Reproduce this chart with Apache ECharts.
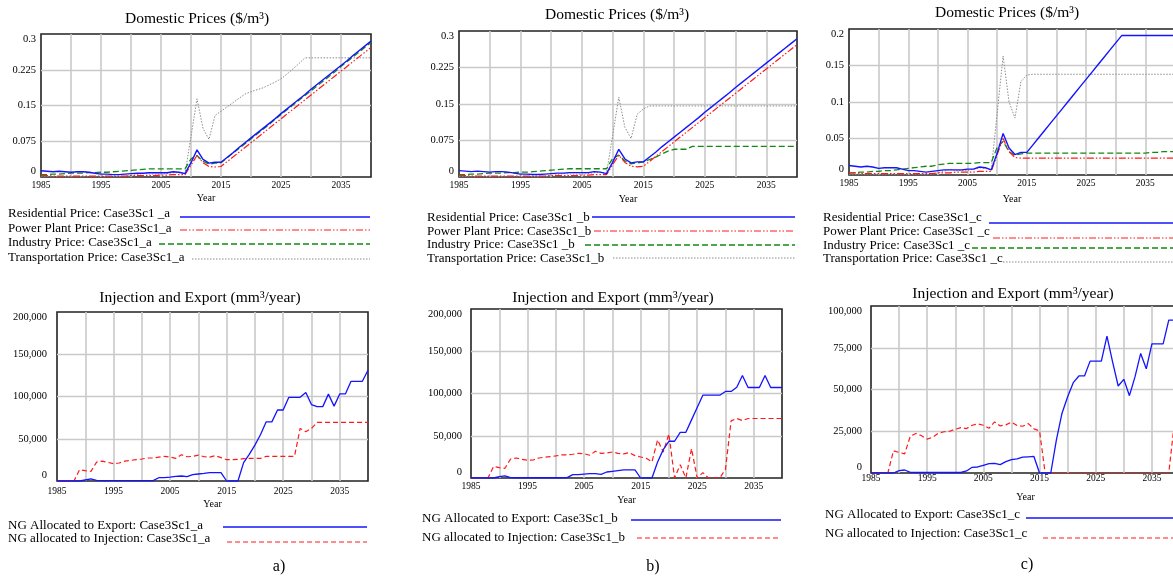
<!DOCTYPE html>
<html><head><meta charset="utf-8">
<script src="https://cdn.jsdelivr.net/npm/echarts@6/dist/echarts.min.js"></script>
<style>html,body{margin:0;padding:0;background:#fff;overflow:hidden}#c{width:1195px;height:580px}</style>
</head><body><div id="c"></div>
<script>
// ---------- DATA ----------
const years = [1985,1986,1987,1988,1989,1990,1991,1992,1993,1994,1995,1996,1997,1998,1999,2000,2001,2002,2003,2004,2005,2006,2007,2008,2009,2010,2011,2012,2013,2014,2015,2016,2017,2018,2019,2020,2021,2022,2023,2024,2025,2026,2027,2028,2029,2030,2031,2032,2033,2034,2035,2036,2037,2038,2039,2040];
const xTickLabels = ['1985','1995','2005','2015','2025','2035'];

// Domestic prices ($/m3)
const resA = [0.013,0.012,0.011,0.012,0.011,0.010,0.011,0.011,0.010,0.008,0.006,0.006,0.005,0.005,0.006,0.007,0.008,0.008,0.009,0.009,0.009,0.009,0.011,0.010,0.007,0.030,0.057,0.037,0.029,0.031,
  0.031,0.041,0.051,0.062,0.072,0.082,0.092,0.102,0.112,0.122,0.133,0.143,0.153,0.163,0.173,0.184,0.194,0.204,0.214,0.224,0.234,0.244,0.255,0.265,0.275,0.285];
const ppA = [0.003,0.003,0.002,0.002,0.002,0.002,0.002,0.002,0.002,0.002,0.002,0.002,0.002,0.002,0.002,0.003,0.003,0.003,0.003,0.003,0.004,0.004,0.005,0.005,0.005,0.025,0.045,0.030,0.022,0.021,
  0.022,0.032,0.042,0.052,0.062,0.072,0.082,0.092,0.102,0.112,0.122,0.132,0.142,0.152,0.162,0.172,0.182,0.192,0.202,0.212,0.222,0.232,0.242,0.252,0.262,0.272];
const indA = [0.005,0.005,0.006,0.006,0.007,0.008,0.008,0.008,0.009,0.009,0.010,0.010,0.011,0.012,0.013,0.014,0.015,0.016,0.017,0.017,0.017,0.017,0.017,0.017,0.017,0.038,0.045,0.033,0.027,0.029,
  0.030,0.040,0.050,0.060,0.070,0.080,0.090,0.100,0.110,0.121,0.131,0.141,0.151,0.161,0.171,0.181,0.191,0.201,0.211,0.221,0.232,0.242,0.252,0.262,0.272,0.282];
const trA = [0.001,0.001,0.001,0.001,0.001,0.001,0.001,0.001,0.001,0.001,0.001,0.001,0.001,0.001,0.001,0.003,0.005,0.007,0.006,0.006,0.006,0.007,0.009,0.009,0.007,0.085,0.164,0.102,0.079,0.129,
  0.138,0.147,0.156,0.165,0.174,0.179,0.183,0.187,0.193,0.199,0.206,0.216,0.227,0.238,0.250,0.250,0.250,0.250,0.250,0.250,0.250,0.250,0.250,0.250,0.250,0.250];

const resB = [0.013,0.012,0.011,0.012,0.011,0.010,0.011,0.011,0.010,0.008,0.006,0.006,0.005,0.005,0.006,0.007,0.008,0.008,0.009,0.009,0.009,0.009,0.011,0.010,0.007,0.030,0.057,0.037,0.029,0.031,
  0.031,0.041,0.051,0.062,0.072,0.082,0.092,0.102,0.112,0.122,0.133,0.143,0.153,0.163,0.173,0.184,0.194,0.204,0.214,0.224,0.234,0.244,0.254,0.264,0.274,0.284];
const ppB = [0.003,0.003,0.002,0.002,0.002,0.002,0.002,0.002,0.002,0.002,0.002,0.002,0.002,0.002,0.002,0.003,0.003,0.003,0.003,0.003,0.004,0.004,0.005,0.005,0.005,0.025,0.045,0.030,0.022,0.021,
  0.022,0.032,0.042,0.052,0.062,0.072,0.082,0.092,0.102,0.112,0.122,0.132,0.142,0.152,0.162,0.172,0.182,0.192,0.202,0.212,0.222,0.232,0.242,0.252,0.262,0.272];
const indB = [0.005,0.005,0.006,0.006,0.007,0.008,0.008,0.008,0.009,0.009,0.010,0.010,0.011,0.012,0.013,0.014,0.015,0.016,0.017,0.017,0.017,0.017,0.017,0.017,0.017,0.038,0.045,0.033,0.027,0.029,
  0.031,0.036,0.041,0.047,0.053,0.057,0.057,0.057,0.063,0.063,0.063,0.063,0.063,0.063,0.063,0.063,0.063,0.063,0.063,0.063,0.063,0.063,0.063,0.063,0.063,0.063];
const trB = [0.001,0.001,0.001,0.001,0.001,0.001,0.001,0.001,0.001,0.001,0.001,0.001,0.001,0.001,0.001,0.003,0.005,0.007,0.006,0.006,0.006,0.007,0.009,0.009,0.007,0.085,0.164,0.102,0.079,0.129,
  0.140,0.146,0.146,0.146,0.146,0.146,0.146,0.146,0.146,0.146,0.146,0.146,0.146,0.146,0.146,0.146,0.146,0.146,0.146,0.146,0.146,0.146,0.146,0.146,0.146,0.146];

const resC = [0.013,0.012,0.011,0.012,0.011,0.009,0.010,0.010,0.010,0.008,0.006,0.006,0.005,0.004,0.005,0.006,0.007,0.007,0.007,0.007,0.008,0.008,0.011,0.010,0.007,0.030,0.057,0.037,0.028,0.031,
  0.031,0.041,0.051,0.061,0.071,0.081,0.091,0.101,0.111,0.121,0.131,0.141,0.151,0.161,0.171,0.181,0.191,0.191,0.191,0.191,0.191,0.191,0.191,0.191,0.191,0.191];
const ppC = [0.003,0.003,0.002,0.002,0.002,0.002,0.002,0.002,0.002,0.002,0.002,0.002,0.002,0.002,0.002,0.003,0.003,0.003,0.004,0.004,0.004,0.004,0.005,0.005,0.005,0.028,0.050,0.032,0.024,0.023,
  0.023,0.023,0.023,0.023,0.023,0.023,0.023,0.023,0.023,0.023,0.023,0.023,0.023,0.023,0.023,0.023,0.023,0.023,0.023,0.023,0.023,0.023,0.023,0.023,0.023,0.023];
const indC = [0.003,0.003,0.004,0.004,0.005,0.005,0.006,0.006,0.007,0.008,0.009,0.010,0.011,0.012,0.012,0.014,0.015,0.016,0.016,0.016,0.016,0.016,0.017,0.017,0.017,0.038,0.046,0.032,0.027,0.029,
  0.030,0.030,0.030,0.030,0.030,0.030,0.030,0.030,0.030,0.030,0.030,0.030,0.030,0.030,0.030,0.030,0.030,0.030,0.030,0.030,0.030,0.031,0.031,0.032,0.032,0.032];
const trC = [0.001,0.001,0.001,0.001,0.001,0.001,0.001,0.001,0.001,0.001,0.001,0.001,0.001,0.001,0.001,0.003,0.005,0.008,0.006,0.006,0.006,0.008,0.010,0.009,0.007,0.085,0.163,0.100,0.078,0.128,
  0.137,0.138,0.138,0.138,0.138,0.138,0.138,0.138,0.138,0.138,0.138,0.138,0.138,0.138,0.138,0.138,0.138,0.138,0.138,0.138,0.138,0.138,0.138,0.138,0.138,0.138];

// Injection and export (mm3/year)
const expA = [0,0,0,0,0,1200,2400,800,400,400,400,400,400,400,400,400,400,500,3900,4000,4700,5500,5900,5100,7500,8300,9000,9800,9800,9800,
  0,0,0,21700,31500,42500,55000,70000,70000,84000,84000,99000,99000,99000,104700,90500,88000,88000,102800,88600,103000,103000,118000,118000,118000,131000];
const injA = [0,0,0,0,13400,12200,11400,22400,23600,22000,20500,21300,23600,24400,25200,26000,27200,27200,28300,29100,28300,26800,31100,28700,29100,30700,28700,28300,29900,27600,
  25200,25200,25600,26400,26800,26800,26800,29100,29100,29100,29100,29100,29100,62200,58300,62200,69300,69300,69300,69300,69300,69300,69300,69300,69300,69300];
const expB = [0,0,0,0,0,1600,2400,400,300,300,300,300,300,300,300,300,300,500,4000,4000,4700,5100,5100,4300,7100,7900,8700,9500,9500,9500,
  0,0,0,19000,33600,43500,43500,54100,54100,68800,83400,98000,98000,98000,98000,102400,102400,107500,121300,107100,107100,107100,121300,107100,107100,107100];
const injB = [0,0,0,0,13800,12300,11500,22500,23700,22100,21000,21300,23700,24500,25300,26100,27300,27300,28100,29200,28800,26900,31600,29200,29600,30800,29200,28500,30000,26500,
  24900,23300,19000,45100,30800,52200,0,15800,0,34800,0,6300,0,0,0,10300,67600,70400,68000,70400,70400,70400,70400,70400,70400,70400];
const expC = [0,0,0,0,0,1400,1800,400,300,300,300,300,300,300,300,300,300,1200,3400,3600,4600,5600,5800,5000,6800,8000,8500,9500,9700,9900,
  0,0,0,19900,35800,45700,54100,58100,58100,67000,67000,67000,81900,66600,52100,56100,46300,57700,71600,62400,77300,77300,77300,91500,91500,91500];
const injC = [0,0,0,0,13300,12300,11500,22100,23700,22300,20300,21500,23900,24700,25000,26200,27200,26600,28600,29400,28600,26800,30600,28200,28800,30400,28400,28000,29600,26400,
  25200,0,0,0,0,0,0,0,0,0,0,0,0,0,0,0,0,0,0,0,0,0,0,0,30000,70000];

const priceTicksAB = [0, 0.075, 0.15, 0.225, 0.3];
const priceTicksC = [0, 0.05, 0.1, 0.15, 0.2];
const flowTicksAB = [0, 50000, 100000, 150000, 200000];
const flowTicksC = [0, 25000, 50000, 75000, 100000];

const priceTitle = 'Domestic Prices ($/m³)';
const flowTitle = 'Injection and Export (mm³/year)';
const priceNames = {
  a: ['Residential Price: Case3Sc1 _a','Power Plant Price: Case3Sc1_a','Industry Price: Case3Sc1_a','Transportation Price: Case3Sc1_a'],
  b: ['Residential Price: Case3Sc1 _b','Power Plant Price: Case3Sc1_b','Industry Price: Case3Sc1 _b','Transportation Price: Case3Sc1_b'],
  c: ['Residential Price: Case3Sc1_c','Power Plant Price: Case3Sc1 _c','Industry Price: Case3Sc1 _c','Transportation Price: Case3Sc1 _c']
};
const flowNames = {
  a: ['NG Allocated to Export: Case3Sc1_a','NG allocated to Injection: Case3Sc1_a'],
  b: ['NG Allocated to Export: Case3Sc1_b','NG allocated to Injection: Case3Sc1_b'],
  c: ['NG Allocated to Export: Case3Sc1_c','NG allocated to Injection: Case3Sc1_c']
};
const panelLabels = ['a)','b)','c)'];

// ---------- STYLE / LAYOUT ----------
const FONT = '"Liberation Serif", "Times New Roman", serif';
const ST = {
  res: {color:'#1414ff', width:1.4, type:'solid'},
  pp:  {color:'#ff1a1a', width:1.2, type:[7,2,1.5,2,1.5,2]},
  ind: {color:'#128a12', width:1.3, type:[6,3]},
  tr:  {color:'#8c8c8c', width:1.0, type:[1.5,1.5]},
  exp: {color:'#1414ff', width:1.3, type:'solid'},
  inj: {color:'#ff1a1a', width:1.2, type:[5,3]}
};
const layouts = [
  {left:41, top:34, width:330, height:143, ticks:priceTicksAB, xm:3, ng:16, ym:5},
  {left:459, top:31, width:338, height:146, ticks:priceTicksAB, xm:3, ng:17, ym:5},
  {left:849, top:29, width:326, height:146, ticks:priceTicksC, xm:3, ng:19, ym:5},
  {left:57, top:312, width:311, height:169, ticks:flowTicksAB, xm:5, ng:18, ym:10},
  {left:471, top:309, width:311, height:169, ticks:flowTicksAB, xm:3, ng:17, ym:9},
  {left:871, top:306, width:309, height:167, ticks:flowTicksC, xm:0, ng:19, ym:9}
];

const pairs = arr => years.map((y,i)=>[y, arr[i]]);
const fmtNum = v => v >= 1000 ? v.toLocaleString('en-US') : String(+v.toFixed(3));

const grid = [], xAxis = [], yAxis = [], series = [];
layouts.forEach((L,i)=>{
  grid.push({left:L.left, top:L.top, width:L.width, height:L.height, show:true, borderColor:'#222', borderWidth:1.6, backgroundColor:'#fff'});
  xAxis.push({type:'value', gridIndex:i, min:years[0], max:years[years.length-1], interval:5,
    axisLine:{show:false}, axisTick:{show:false},
    splitLine:{show:true, showMinLine:false, showMaxLine:false, lineStyle:{color:'#c9c9c9', width:1.6}},
    axisLabel:{margin:L.xm, fontFamily:FONT, fontSize:9.5, color:'#000',
      formatter: v => xTickLabels.indexOf(String(v))>=0 ? String(v) : ''},
    name:'Year', nameLocation:'middle', nameGap:L.ng, nameTextStyle:{fontFamily:FONT, fontSize:10, color:'#000', verticalAlign:'top'}
  });
  const t = L.ticks;
  yAxis.push({type:'value', gridIndex:i, min:t[0], max:t[t.length-1], interval:t[1]-t[0],
    axisLine:{show:false}, axisTick:{show:false},
    splitLine:{show:true, showMinLine:false, showMaxLine:false, lineStyle:{color:'#c9c9c9', width:1.4}},
    axisLabel:{margin:L.ym, fontFamily:FONT, fontSize:10.5, color:'#000', formatter:fmtNum,
      verticalAlignMinLabel:'bottom', verticalAlignMaxLabel:'top'}
  });
});

function addLine(idx, name, data, st, z){
  series.push({type:'line', name, xAxisIndex:idx, yAxisIndex:idx, data:pairs(data), showSymbol:false, symbol:'none',
    lineStyle:{color:st.color, width:st.width, type:st.type}, z, animation:false, silent:true});
}
const priceSets = [[resA,ppA,indA,trA],[resB,ppB,indB,trB],[resC,ppC,indC,trC]];
const flowSets = [[expA,injA],[expB,injB],[expC,injC]];
['a','b','c'].forEach((k,p)=>{
  const [r,pp,ind,tr] = priceSets[p];
  const nm = priceNames[k];
  addLine(p, nm[3], tr, ST.tr, 2);
  addLine(p, nm[2], ind, ST.ind, 3);
  addLine(p, nm[1], pp, ST.pp, 4);
  addLine(p, nm[0], r, ST.res, 5);
  const [ex, inj] = flowSets[p];
  const fn = flowNames[k];
  addLine(p+3, fn[1], inj, ST.inj, 3);
  addLine(p+3, fn[0], ex, ST.exp, 4);
});

// ---------- TEXT / LEGEND GRAPHICS ----------
const graphic = [];
function txt(x, y, s, size, align){
  graphic.push({type:'text', x, y, silent:true, style:{text:s, fontFamily:FONT, fontSize:size, fill:'#000',
    textAlign:align||'left', textVerticalAlign:'middle', align:align||'left', verticalAlign:'middle'}});
}
function seg(x1, x2, y, st){
  graphic.push({type:'line', silent:true, shape:{x1, y1:y, x2, y2:y},
    style:{stroke:st.color, lineWidth:st.width, lineDash: st.type==='solid'?null:st.type}});
}
// titles
const titlePos = [[197,19],[617,15],[1007,13],[200,298],[613,298],[1013,294]];
titlePos.forEach((p,i)=> txt(p[0], p[1], i<3?priceTitle:flowTitle, 15.5, 'center'));
// price legends
const priceLeg = [
  {tx:8,  ty:[214,229,243,258], ly:[217,230,244,259], lx:[[180,370],[180,370],[159,370],[192,370]]},
  {tx:427,ty:[218,232,245,259], ly:[217,231,245,258], lx:[[592,795],[594,793],[585,795],[613,795]]},
  {tx:823,ty:[218,232,246,259], ly:[223,238,248,262], lx:[[989,1190],[993,1190],[972,1190],[1003,1190]]}
];
const priceSt = [ST.res, ST.pp, ST.ind, ST.tr];
['a','b','c'].forEach((k,p)=>{
  const L = priceLeg[p];
  for (let j=0;j<4;j++){ txt(L.tx, L.ty[j], priceNames[k][j], 13); seg(L.lx[j][0], L.lx[j][1], L.ly[j], priceSt[j]); }
});
const flowLeg = [
  {tx:8,  ty:[526,539], ly:[527,542], lx:[[223,367],[227,367]]},
  {tx:422,ty:[519,538], ly:[520,538], lx:[[631,781],[637,781]]},
  {tx:825,ty:[515,534], ly:[518,538], lx:[[1026,1190],[1043,1190]]}
];
const flowSt = [ST.exp, ST.inj];
['a','b','c'].forEach((k,p)=>{
  const L = flowLeg[p];
  for (let j=0;j<2;j++){ txt(L.tx, L.ty[j], flowNames[k][j], 13); seg(L.lx[j][0], L.lx[j][1], L.ly[j], flowSt[j]); }
});
const labPos = [[279,567],[653,567],[1027,565]];
labPos.forEach((p,i)=> txt(p[0], p[1], panelLabels[i], 16, 'center'));

const chart = echarts.init(document.getElementById('c'), null, {renderer:'canvas'});
chart.setOption({animation:false, backgroundColor:'#fff', grid, xAxis, yAxis, series, graphic});
</script>
</body></html>
